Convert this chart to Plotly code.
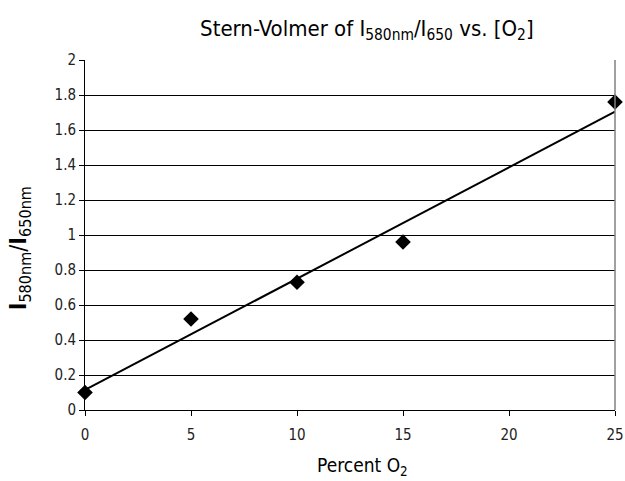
import plotly.graph_objects as go
import numpy as np

percent_o2 = [0, 5, 10, 15, 25]
ratio = [0.10, 0.52, 0.73, 0.96, 1.76]
x_ticks = [0, 5, 10, 15, 20, 25]
y_ticks = [0, 0.2, 0.4, 0.6, 0.8, 1, 1.2, 1.4, 1.6, 1.8, 2]

slope, intercept = np.polyfit(percent_o2, ratio, 1)
fit_x = [min(percent_o2), max(percent_o2)]
fit_y = [slope * v + intercept for v in fit_x]

FONT = "DejaVu Sans Condensed, Liberation Sans Narrow, Arial Narrow, sans-serif"

fig = go.Figure()
fig.add_trace(go.Scatter(x=fit_x, y=fit_y, mode="lines",
                         line=dict(color="black", width=2), showlegend=False))
fig.add_trace(go.Scatter(x=percent_o2, y=ratio, mode="markers",
                         marker=dict(symbol="diamond", color="black", size=12),
                         showlegend=False, cliponaxis=False))

fig.update_layout(
    width=625, height=481,
    margin=dict(l=85, r=10, t=60, b=71, autoexpand=False),
    paper_bgcolor="white", plot_bgcolor="white",
    font=dict(family=FONT, color="black"),
    title=dict(text="Stern-Volmer of I<sub>580nm</sub>/I<sub>650</sub> vs. [O<sub>2</sub>]",
               x=0.587, xanchor="center", y=0.942, yanchor="middle",
               font=dict(size=22, family=FONT)),
    xaxis=dict(range=[0, 25], tickvals=x_ticks, ticks="outside", ticklen=5,
               tickcolor="black", showgrid=False, zeroline=False,
               showline=True, linecolor="black", linewidth=1,
               ticklabeloverflow="allow", automargin=False,
               tickfont=dict(size=15, color="#222"), ticklabelstandoff=6),
    yaxis=dict(range=[0, 2], tickvals=y_ticks, ticktext=[f"{v:g}" for v in y_ticks],
               ticks="outside", ticklen=5, tickcolor="black", automargin=False,
               showgrid=True, gridcolor="black", gridwidth=1, zeroline=False,
               showline=True, linecolor="black", linewidth=1,
               tickfont=dict(size=15, color="#222")),
)
fig.add_annotation(text="Percent O<sub>2</sub>", xref="paper", yref="paper",
                   x=0.523, y=-0.16, xanchor="center", yanchor="middle",
                   showarrow=False, font=dict(size=19, family=FONT))
fig.add_annotation(text="<b>I</b><sub>580nm</sub>/<b>I</b><sub>650nm</sub>",
                   xref="paper", yref="paper", x=-0.122, y=0.463,
                   xanchor="center", yanchor="middle", textangle=-90,
                   showarrow=False, font=dict(size=23, family=FONT))
fig.add_shape(type="line", xref="paper", yref="paper", x0=1, x1=1, y0=0, y1=1,
              line=dict(color="#808080", width=1.5))
fig.write_html("out.html")
